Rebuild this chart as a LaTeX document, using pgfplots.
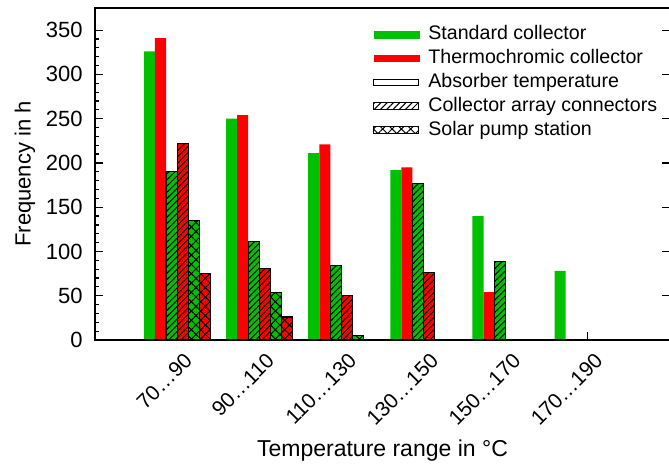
\documentclass[border=0pt]{standalone}
\usepackage{fontspec}
\setmainfont{Liberation Sans}
\usepackage{pgfplots}
\pgfplotsset{compat=1.18}
\usetikzlibrary{patterns.meta}

\definecolor{grn}{RGB}{0,192,0}
\definecolor{rd}{RGB}{255,0,0}

\tikzset{
  hatchA/.style={postaction={pattern={Lines[angle=45,distance=2.2pt,line width=0.5pt]}}},
  hatchB/.style={postaction={pattern={Hatch[angle=45,distance=3.3pt,line width=0.5pt]}}},
}

\begin{document}
\begin{tikzpicture}
\begin{axis}[
  name=ax,
  scale only axis,
  width=287.5pt, height=166pt,
  xmin=-1, xmax=6,
  ymin=0, ymax=375,
  axis on top,
  axis line style={line width=1pt},
  ybar, bar width=0.135,
  xtick={0,1,2,3,4,5},
  xticklabels={70…90,90…110,110…130,130…150,150…170,170…190},
  xtick pos=bottom,
  xtick align=inside,
  ytick={0,50,...,350},
  minor y tick num=4,
  ytick pos=left,
  ytick align=inside,
  major tick length=4pt,
  minor tick length=2pt,
  tick style={black, line width=0.6pt},
  /pgf/number format/assume math mode=true,
  yticklabel style={font=\fontsize{11}{13}\selectfont, inner sep=0pt, xshift=-6pt},
  x tick label style={font=\fontsize{10.5}{12}\selectfont, rotate=45, anchor=east, inner sep=0pt, yshift=-10pt, xshift=-2pt},
  ylabel={Frequency in h},
  xlabel={Temperature range in °C},
  every axis y label/.style={at={(axis description cs:-0.122,0.5)}, rotate=90, anchor=center, font=\fontsize{11}{13}\selectfont},
  every axis x label/.style={at={(axis description cs:0.5,-0.352)}, anchor=base, font=\fontsize{11.5}{14}\selectfont},
  legend cell align=left,
  legend style={at={(axis description cs:0.4835,0.953)}, anchor=north west,
    draw=none, fill=none, inner sep=0pt, font=\fontsize{9.8}{11.5}\selectfont,
    row sep=1.2pt,
    nodes={inner sep=0.5pt, text height=7.5pt, text depth=2.2pt},
    /tikz/every odd column/.append style={column sep=4pt}},
]
% legend
\addlegendimage{legend image code/.code={\fill[grn] (0pt,-1.7pt) rectangle (22.5pt,1.7pt);}}
\addlegendentry{Standard collector}
\addlegendimage{legend image code/.code={\fill[rd] (0pt,-1.7pt) rectangle (22.5pt,1.7pt);}}
\addlegendentry{Thermochromic collector}
\addlegendimage{legend image code/.code={\draw[black, line width=0.5pt, fill=white] (0pt,-1.6pt) rectangle (22.5pt,1.6pt);}}
\addlegendentry{Absorber temperature}
\addlegendimage{legend image code/.code={\draw[black, line width=0.5pt, fill=white, hatchA] (0pt,-1.6pt) rectangle (22.5pt,1.6pt);}}
\addlegendentry{Collector array connectors}
\addlegendimage{legend image code/.code={\draw[black, line width=0.5pt, fill=white, hatchB] (0pt,-1.6pt) rectangle (22.5pt,1.6pt);}}
\addlegendentry{Solar pump station}

% absorber temperature
\addplot[forget plot, fill=grn, draw=none, bar shift=-0.3375] coordinates {(0,326) (1,250) (2,211) (3,192) (4,140) (5,78)};
\addplot[forget plot, fill=rd, draw=none, bar shift=-0.2025] coordinates {(0,341) (1,254) (2,221) (3,195) (4,54)};
% collector array connectors
\addplot[forget plot, fill=grn, draw=black, line width=0.6pt, hatchA, bar shift=-0.0675] coordinates {(0,190) (1,111) (2,84) (3,177) (4,89)};
\addplot[forget plot, fill=rd, draw=black, line width=0.6pt, hatchA, bar shift=0.0675] coordinates {(0,222) (1,81) (2,50) (3,76)};
% solar pump station
\addplot[forget plot, fill=grn, draw=black, line width=0.6pt, hatchB, bar shift=0.2025] coordinates {(0,135) (1,54) (2,5)};
\addplot[forget plot, fill=rd, draw=black, line width=0.6pt, hatchB, bar shift=0.3375] coordinates {(0,75) (1,26)};
\end{axis}
\begin{axis}[
  scale only axis,
  width=287.5pt, height=166pt,
  at={(ax.south west)}, anchor=south west,
  xmin=-1, xmax=6, ymin=0, ymax=375,
  axis line style={draw=none},
  xtick=\empty,
  ytick={0,50,...,350}, yticklabels={},
  ytick pos=right, ytick align=inside,
  major tick length=4pt,
  tick style={black, line width=0.6pt},
]
\end{axis}
\pgfresetboundingbox
\path ([xshift=-47.5pt,yshift=4pt]ax.north west) rectangle ([xshift=-0.5pt,yshift=-62.5pt]ax.south east);
\end{tikzpicture}
\end{document}
